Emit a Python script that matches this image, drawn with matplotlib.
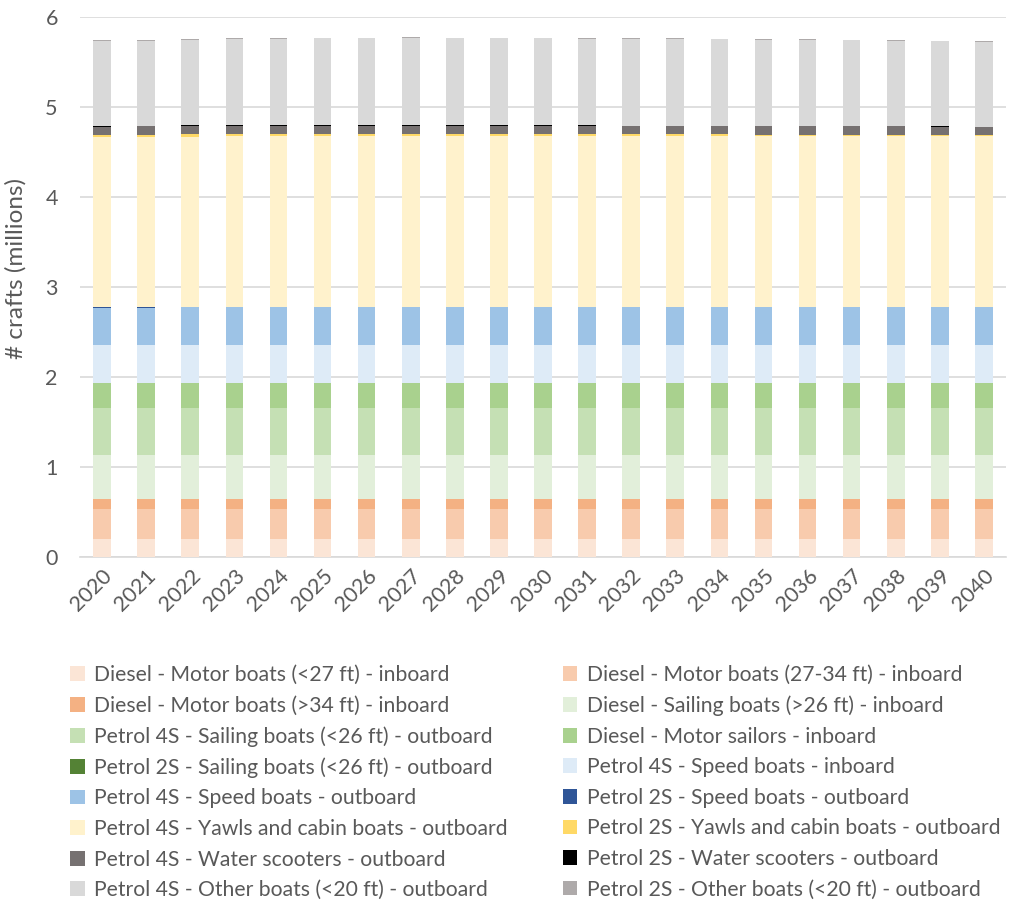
import matplotlib
matplotlib.use("Agg")
import matplotlib.pyplot as plt
import numpy as np

years = [str(y) for y in range(2020, 2041)]

labels = [
    "Diesel - Motor boats (<27 ft) - inboard",
    "Diesel - Motor boats (27-34 ft) - inboard",
    "Diesel - Motor boats (>34 ft) - inboard",
    "Diesel - Sailing boats (>26 ft) - inboard",
    "Petrol 4S - Sailing boats (<26 ft) - outboard",
    "Diesel - Motor sailors - inboard",
    "Petrol 2S - Sailing boats (<26 ft) - outboard",
    "Petrol 4S - Speed boats - inboard",
    "Petrol 4S - Speed boats - outboard",
    "Petrol 2S - Speed boats - outboard",
    "Petrol 4S - Yawls and cabin boats - outboard",
    "Petrol 2S - Yawls and cabin boats - outboard",
    "Petrol 4S - Water scooters - outboard",
    "Petrol 2S - Water scooters - outboard",
    "Petrol 4S - Other boats (<20 ft) - outboard",
    "Petrol 2S - Other boats (<20 ft) - outboard",
]

colors = ["#FBE5D6", "#F8CBAD", "#F4B183", "#E2EFDA", "#C5E0B4", "#A9D18E",
          "#548235", "#DEEBF7", "#9DC3E6", "#2F5597", "#FFF2CC", "#FFD966",
          "#767171", "#000000", "#D9D9D9", "#AEAAAA"]

d_motor_lt27 = [0.20] * 21
d_motor_27_34 = [0.33] * 21
d_motor_gt34 = [0.11] * 21
d_sail_gt26 = [0.49] * 21
p4_sail_lt26 = [0.53] * 21
d_motor_sailors = [0.27] * 21
p2_sail_lt26 = [0.002, 0.002, 0.002, 0.002, 0.002, 0.001, 0.001, 0.001, 0.001, 0.001, 0.001,
                0.001, 0.001, 0.001, 0.001, 0.001, 0.001, 0.001, 0.001, 0.001, 0.001]
p4_speed_in = [0.42] * 21
p4_speed_out = [0.418, 0.420, 0.422, 0.423, 0.424, 0.425, 0.426, 0.427, 0.427, 0.428, 0.428,
                0.428, 0.428, 0.428, 0.428, 0.428, 0.428, 0.428, 0.428, 0.428, 0.428]
p2_speed_out = [0.012, 0.010, 0.009, 0.008, 0.007, 0.006, 0.005, 0.005, 0.004, 0.004, 0.003,
                0.003, 0.003, 0.003, 0.002, 0.002, 0.002, 0.002, 0.002, 0.002, 0.002]
p4_yawls = [1.880, 1.884, 1.887, 1.890, 1.892, 1.893, 1.894, 1.895, 1.896, 1.896, 1.897,
            1.897, 1.897, 1.897, 1.897, 1.896, 1.896, 1.895, 1.895, 1.894, 1.893]
p2_yawls = [0.030, 0.028, 0.026, 0.025, 0.024, 0.023, 0.022, 0.021, 0.020, 0.020, 0.019,
            0.019, 0.018, 0.018, 0.018, 0.017, 0.017, 0.017, 0.016, 0.016, 0.016]
p4_scooters = [0.090, 0.090, 0.092, 0.093, 0.094, 0.095, 0.095, 0.095, 0.095, 0.095, 0.095,
               0.095, 0.095, 0.094, 0.094, 0.094, 0.093, 0.093, 0.092, 0.092, 0.091]
p2_scooters = [0.010, 0.009, 0.008, 0.007, 0.006, 0.005, 0.004, 0.004, 0.003, 0.003, 0.003,
               0.002, 0.002, 0.002, 0.002, 0.002, 0.002, 0.002, 0.001, 0.001, 0.001]
p4_other = [0.940, 0.945, 0.950, 0.955, 0.960, 0.965, 0.967, 0.967, 0.968, 0.968, 0.968,
            0.966, 0.965, 0.962, 0.961, 0.958, 0.957, 0.954, 0.951, 0.947, 0.943]
p2_other = [0.010, 0.010, 0.009, 0.009, 0.009, 0.008, 0.008, 0.008, 0.008, 0.007, 0.007,
            0.007, 0.007, 0.007, 0.007, 0.006, 0.006, 0.006, 0.006, 0.006, 0.006]

series = [d_motor_lt27, d_motor_27_34, d_motor_gt34, d_sail_gt26, p4_sail_lt26,
          d_motor_sailors, p2_sail_lt26, p4_speed_in, p4_speed_out, p2_speed_out,
          p4_yawls, p2_yawls, p4_scooters, p2_scooters, p4_other, p2_other]

plt.rcParams['font.family'] = ['Lato', 'DejaVu Sans']

fig = plt.figure(figsize=(10.21, 9.01), dpi=100)
ax = fig.add_axes([80 / 1021, 1 - 557 / 901, 926 / 1021, 540 / 901])

x = np.arange(len(years))
bottom = np.zeros(len(years))
handles = []
for lab, col, vals in zip(labels, colors, series):
    v = np.array(vals)
    b = ax.bar(x, v, width=0.4, bottom=bottom, color=col, label=lab, linewidth=0, zorder=3)
    handles.append(b)
    bottom += v

ax.set_xlim(-0.5, len(years) - 0.5)
ax.set_ylim(0, 6)
ax.set_yticks(range(0, 7))
ax.set_xticks(x)
ax.set_xticklabels(years, rotation=45, ha='right', rotation_mode='anchor')
ax.tick_params(axis='both', length=0, labelsize=15.5, colors='#595959')
ax.tick_params(axis='x', pad=6)
ax.tick_params(axis='y', pad=16)
ax.grid(axis='y', color='#D9D9D9', linewidth=1.2, zorder=0)
for s in ['top', 'right', 'left']:
    ax.spines[s].set_visible(False)
ax.spines['bottom'].set_color('#D9D9D9')
ax.spines['bottom'].set_linewidth(1.2)
ax.set_ylabel('# crafts (millions)', fontsize=17.5, color='#595959')
ax.yaxis.set_label_coords(-0.058, 0.535)

order = list(range(0, 16, 2)) + list(range(1, 16, 2))
leg = fig.legend([handles[i] for i in order], [labels[i] for i in order],
                 ncol=2, loc='upper left', bbox_to_anchor=(70 / 1021, 1 - 665 / 901),
                 frameon=False, fontsize=15.2, handlelength=0.7, handleheight=0.7,
                 handletextpad=0.45, labelspacing=0.5, columnspacing=2.6,
                 labelcolor='#595959', borderaxespad=0, borderpad=0)

fig.savefig('out.png', dpi=100)
